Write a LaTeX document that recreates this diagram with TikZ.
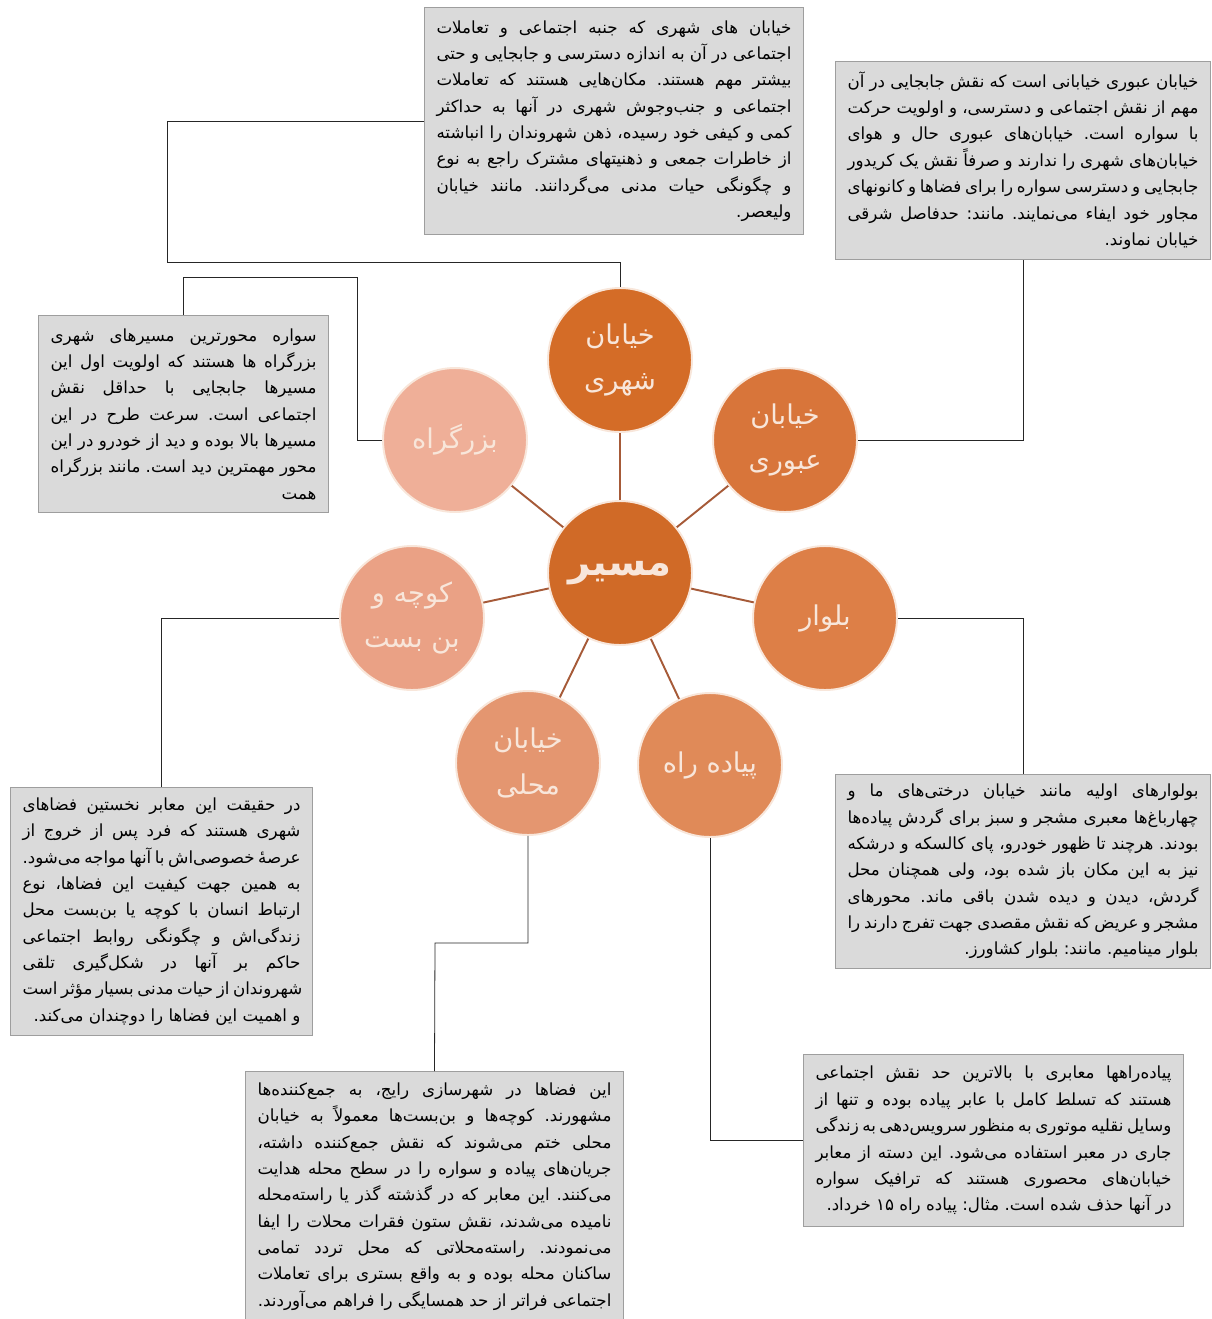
\documentclass[tikz,border=0pt]{standalone}
\usepackage{fontspec}
\newfontfamily\arabicfont[Script=Arabic]{DejaVu Sans}
\TeXXeTstate=1
\frenchspacing
\definecolor{c0}{HTML}{D06A27}
\definecolor{cS}{HTML}{D46C27}
\definecolor{cO}{HTML}{D8753A}
\definecolor{cB}{HTML}{DD7F47}
\definecolor{cP}{HTML}{E08A58}
\definecolor{cL}{HTML}{E49670}
\definecolor{cK}{HTML}{EAA185}
\definecolor{cH}{HTML}{EFAF98}
\definecolor{ringcol}{HTML}{F8E6DA}
\definecolor{spokecol}{HTML}{A65A38}
\definecolor{boxfill}{HTML}{DADADA}
\definecolor{boxline}{HTML}{9E9E9E}
\newcommand{\fa}[1]{\beginR #1\endR}
\newcommand{\jline}[1]{\hbox to\hsize{\beginR #1\endR}}
\newcommand{\eline}[1]{\hbox to\hsize{\hfill\beginR #1\endR}}
\newcommand{\textlines}[2]{\vbox{\hsize=#1\relax #2}}

\begin{document}
\begin{tikzpicture}[x=0.02cm, y=-0.02cm,
roundnode/.style={circle, draw=ringcol, line width=1.1pt, minimum size=2.88cm, inner sep=0pt,
    align=center, text=ringcol, font={\arabicfont\fontsize{15.5pt}{26pt}\selectfont}},
infobox/.style={rectangle, draw=boxline, fill=boxfill, line width=0.6pt, anchor=north west,
    inner xsep=0.24cm, inner ysep=2pt, font={\arabicfont\fontsize{9.5pt}{15pt}\selectfont}},
spoke/.style={draw=spokecol, line width=1.1pt},
link/.style={draw=black!85, line width=0.45pt}
]
    \useasboundingbox (0,0) rectangle (1212,1319);

    %Nodes
    \node[roundnode, fill=c0, font={\arabicfont\bfseries\fontsize{22pt}{26pt}\selectfont}]
        (m0) at (620,573) {\fa{مسیر}};
    \node[roundnode, fill=cS] (mS) at (620,360) {\fa{خیابان}\\\fa{شهری}};
    \node[roundnode, fill=cO] (mO) at (785,440) {\fa{خیابان}\\\fa{عبوری}};
    \node[roundnode, fill=cB] (mB) at (825,618) {\fa{بلوار}};
    \node[roundnode, fill=cP] (mP) at (710,765) {\fa{پیاده راه}};
    \node[roundnode, fill=cL] (mL) at (528,763) {\fa{خیابان}\\\fa{محلی}};
    \node[roundnode, fill=cK] (mK) at (412,618) {\fa{کوچه و}\\\fa{بن بست}};
    \node[roundnode, fill=cH] (mH) at (455,440) {\fa{بزرگراه}};

    %Text boxes
    \node[infobox, minimum width=7.58cm, minimum height=4.54cm] (tS) at (424,7) {\textlines{7.1cm}{%
        \jline{خیابان های شهری که جنبه اجتماعی و تعاملات}
        \jline{اجتماعی در آن به اندازه دسترسی و جابجایی و حتی}
        \jline{بیشتر مهم هستند. مکان‌هایی هستند که تعاملات}
        \jline{اجتماعی و جنب‌وجوش شهری در آنها به حداکثر}
        \jline{کمی و کیفی خود رسیده، ذهن شهروندان را انباشته}
        \jline{از خاطرات جمعی و ذهنیتهای مشترک راجع به نوع}
        \jline{و چگونگی حیات مدنی می‌گردانند. مانند خیابان}
        \eline{ولیعصر.}}};
    \node[infobox, minimum width=7.5cm, minimum height=3.96cm] (tO) at (835,61) {\textlines{7.02cm}{%
        \jline{خیابان عبوری خیابانی است که نقش جابجایی در آن}
        \jline{مهم از نقش اجتماعی و دسترسی، و اولویت حرکت}
        \jline{با سواره است. خیابان‌های عبوری حال و هوای}
        \jline{خیابان‌های شهری را ندارند و صرفاً نقش یک کریدور}
        \jline{جابجایی و دسترسی سواره را برای فضاها و کانونهای}
        \jline{مجاور خود ایفاء می‌نمایند. مانند: حدفاصل شرقی}
        \eline{خیابان نماوند.}}};
    \node[infobox, minimum width=5.8cm, minimum height=3.94cm] (tH) at (38,315) {\textlines{5.32cm}{%
        \jline{سواره محورترین مسیرهای شهری}
        \jline{بزرگراه ها هستند که اولویت اول این}
        \jline{مسیرها جابجایی با حداقل نقش}
        \jline{اجتماعی است. سرعت طرح در این}
        \jline{مسیرها بالا بوده و دید از خودرو در این}
        \jline{محور مهمترین دید است. مانند بزرگراه}
        \eline{همت}}};
    \node[infobox, minimum width=7.5cm, minimum height=3.88cm] (tB) at (835,774) {\textlines{7.02cm}{%
        \jline{بولوارهای اولیه مانند خیابان درختی‌های ما و}
        \jline{چهارباغ‌ها معبری مشجر و سبز برای گردش پیاده‌ها}
        \jline{بودند. هرچند تا ظهور خودرو، پای کالسکه و درشکه}
        \jline{نیز به این مکان باز شده بود، ولی همچنان محل}
        \jline{گردش، دیدن و دیده شدن باقی ماند. محورهای}
        \jline{مشجر و عریض که نقش مقصدی جهت تفرج دارند را}
        \eline{بلوار مینامیم. مانند: بلوار کشاورز.}}};
    \node[infobox, minimum width=6.04cm, minimum height=4.96cm] (tK) at (10,787) {\textlines{5.56cm}{%
        \jline{در حقیقت این معابر نخستین فضاهای}
        \jline{شهری هستند که فرد پس از خروج از}
        \jline{عرصهٔ خصوصی‌اش با آنها مواجه می‌شود.}
        \jline{به همین جهت کیفیت این فضاها، نوع}
        \jline{ارتباط انسان با کوچه یا بن‌بست محل}
        \jline{زندگی‌اش و چگونگی روابط اجتماعی}
        \jline{حاکم بر آنها در شکل‌گیری تلقی}
        \jline{شهروندان از حیات مدنی بسیار مؤثر است}
        \eline{و اهمیت این فضاها را دوچندان می‌کند.}}};
    \node[infobox, minimum width=7.56cm, minimum height=5.0cm] (tL) at (245,1071) {\textlines{7.08cm}{%
        \jline{این فضاها در شهرسازی رایج، به جمع‌کننده‌ها}
        \jline{مشهورند. کوچه‌ها و بن‌بست‌ها معمولاً به خیابان}
        \jline{محلی ختم می‌شوند که نقش جمع‌کننده داشته،}
        \jline{جریان‌های پیاده و سواره را در سطح محله هدایت}
        \jline{می‌کنند. این معابر که در گذشته گذر یا راسته‌محله}
        \jline{نامیده می‌شدند، نقش ستون فقرات محلات را ایفا}
        \jline{می‌نمودند. راسته‌محلاتی که محل تردد تمامی}
        \jline{ساکنان محله بوده و به واقع بستری برای تعاملات}
        \eline{اجتماعی فراتر از حد همسایگی را فراهم می‌آوردند.}}};
    \node[infobox, minimum width=7.6cm, minimum height=3.44cm] (tP) at (803,1054) {\textlines{7.12cm}{%
        \jline{پیاده‌راهها معابری با بالاترین حد نقش اجتماعی}
        \jline{هستند که تسلط کامل با عابر پیاده بوده و تنها از}
        \jline{وسایل نقلیه موتوری به منظور سرویس‌دهی به زندگی}
        \jline{جاری در معبر استفاده می‌شود. این دسته از معابر}
        \jline{خیابان‌های محصوری هستند که ترافیک سواره}
        \eline{در آنها حذف شده است. مثال: پیاده راه ۱۵ خرداد.}}};

    %Bends
    \coordinate (cS) at (167,262);
    \coordinate (cH) at (357,277);
    \coordinate (cL) at (435,943);

    %Lines
    \foreach \m in {mS,mO,mB,mP,mL,mK,mH}
        \draw[spoke] (m0) -- (\m);
    \draw[link] (tS.west) -| (cS) -| (mS.north);
    \draw[link] (mO.east) -| (tO.south);
    \draw[link] (tH.north) |- (cH) |- (mH.west);
    \draw[link] (mB.east) -| (tB.north);
    \draw[link] (mK.west) -| (tK.north);
    \draw[link] (mL.south) |- (cL) -- (tL.north);
    \draw[link] (mP.south) |- (tP.west);
\end{tikzpicture}
\end{document}
